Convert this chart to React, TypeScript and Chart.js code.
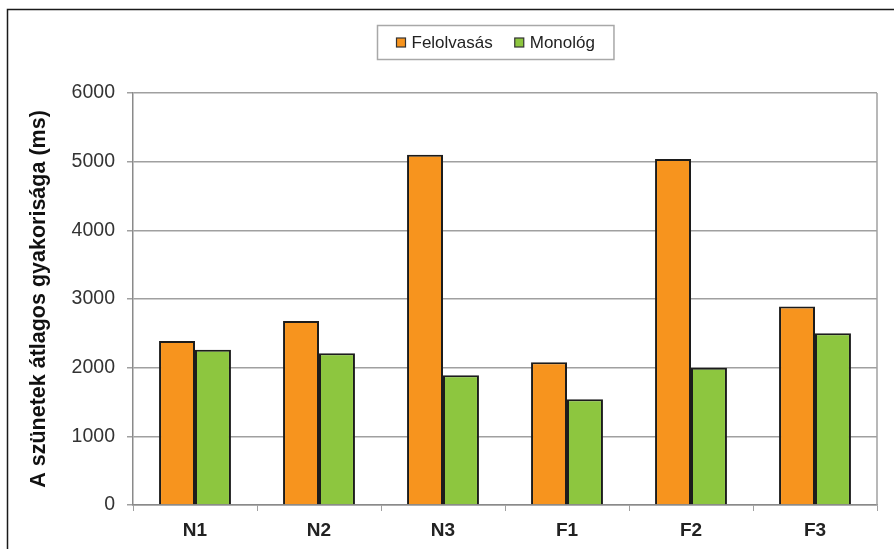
import React, { useEffect, useRef } from "react";
import { Chart, registerables } from "chart.js";

Chart.register(...registerables);

const categories = ["N1", "N2", "N3", "F1", "F2", "F3"];
const seriesNames = ["Felolvasás", "Monológ"];
const felolvasas = [2390, 2680, 5100, 2080, 5040, 2890];
const monolog = [2260, 2210, 1890, 1540, 2000, 2500];
const yTitle = "A szünetek átlagos gyakorisága (ms)";

const ORANGE = "#F7941E";
const GREEN = "#8DC63F";
const EDGE = "#1c1c1c";
const FONT = "'Liberation Sans', Arial, sans-serif";

const decorPlugin = {
  id: "decor",
  afterDraw(chart: any) {
    const ctx = chart.ctx;
    const ca = chart.chartArea;
    ctx.save();
    // outer frame (left and top)
    ctx.strokeStyle = "#1a1a1a";
    ctx.lineWidth = 1.5;
    ctx.beginPath();
    ctx.moveTo(7.5, chart.height + 2);
    ctx.lineTo(7.5, 9.5);
    ctx.lineTo(chart.width + 2, 9.5);
    ctx.stroke();
    // right border of plot area
    ctx.strokeStyle = "#a0a0a0";
    ctx.lineWidth = 1.5;
    ctx.beginPath();
    ctx.moveTo(ca.right, ca.top);
    ctx.lineTo(ca.right, ca.bottom);
    ctx.stroke();

    // legend
    ctx.font = `17px ${FONT}`;
    const colors = [ORANGE, GREEN];
    const box = 9;
    const gapBoxText = 6;
    const gapItems = 22;
    const padX = 19;
    const widths = seriesNames.map((n) => ctx.measureText(n).width);
    const inner = widths.reduce((s, w) => s + box + gapBoxText + w, 0) + gapItems;
    const total = inner + padX * 2;
    const cx = (ca.left + ca.right) / 2 - 10;
    const left = Math.round(cx - total / 2) + 0.5;
    const top = 25.5;
    const h = 34;
    ctx.fillStyle = "#ffffff";
    ctx.fillRect(left, top, total, h);
    ctx.strokeStyle = "#a8a8a8";
    ctx.lineWidth = 1.5;
    ctx.strokeRect(left, top, total, h);
    let x = left + padX;
    const cy = top + h / 2;
    seriesNames.forEach((n, i) => {
      ctx.fillStyle = colors[i];
      ctx.fillRect(x, cy - box / 2, box, box);
      ctx.strokeStyle = "#333";
      ctx.lineWidth = 1.2;
      ctx.strokeRect(x, cy - box / 2, box, box);
      x += box + gapBoxText;
      ctx.fillStyle = "#222";
      ctx.textBaseline = "middle";
      ctx.textAlign = "left";
      ctx.fillText(n, x, cy + 1);
      x += widths[i] + gapItems;
    });
    ctx.restore();
  },
};

export default function App() {
  const ref = useRef<HTMLCanvasElement | null>(null);
  useEffect(() => {
    if (!ref.current) return;
    const chart = new Chart(ref.current, {
      type: "bar",
      data: {
        labels: categories,
        datasets: [
          {
            label: seriesNames[0],
            data: felolvasas,
            backgroundColor: ORANGE,
            borderColor: EDGE,
            borderWidth: 2,
            categoryPercentage: 0.58,
            barPercentage: 1.0,
          },
          {
            label: seriesNames[1],
            data: monolog,
            backgroundColor: GREEN,
            borderColor: EDGE,
            borderWidth: 2,
            categoryPercentage: 0.58,
            barPercentage: 1.0,
          },
        ],
      },
      options: {
        animation: false,
        responsive: false,
        maintainAspectRatio: false,
        layout: { padding: { top: 93, right: 17, bottom: 0, left: 0 } },
        plugins: {
          legend: { display: false },
          tooltip: { enabled: false },
          title: { display: false },
        },
        scales: {
          x: {
            afterFit: (s: any) => {
              s.height = 44;
            },
            grid: {
              offset: true,
              drawOnChartArea: false,
              drawTicks: true,
              tickLength: 6,
              color: "#a0a0a0",
            },
            border: { color: "#8a8a8a", width: 1.5 },
            ticks: {
              color: "#222",
              padding: 8,
              font: { family: FONT, size: 19, weight: "bold" },
            },
          },
          y: {
            min: 0,
            max: 6000,
            afterFit: (s: any) => {
              s.width = 133;
            },
            ticks: {
              stepSize: 1000,
              color: "#333",
              padding: 12,
              font: { family: FONT, size: 19.5 },
              callback: (v: any) => String(v),
            },
            grid: {
              color: "#a0a0a0",
              lineWidth: 1.5,
              tickLength: 6,
            },
            border: { color: "#8a8a8a", width: 1.5 },
            title: {
              display: true,
              text: yTitle,
              color: "#111",
              padding: { top: 26, bottom: 0 },
              font: { family: FONT, size: 21.5, weight: "bold" },
            },
          },
        },
      },
      plugins: [decorPlugin],
    });
    return () => chart.destroy();
  }, []);
  return (
    <div style={{ position: "fixed", left: 0, top: 0, width: 894, height: 549, background: "#fff" }}>
      <canvas ref={ref} width={894} height={549} style={{ display: "block", width: 894, height: 549 }} />
    </div>
  );
}
